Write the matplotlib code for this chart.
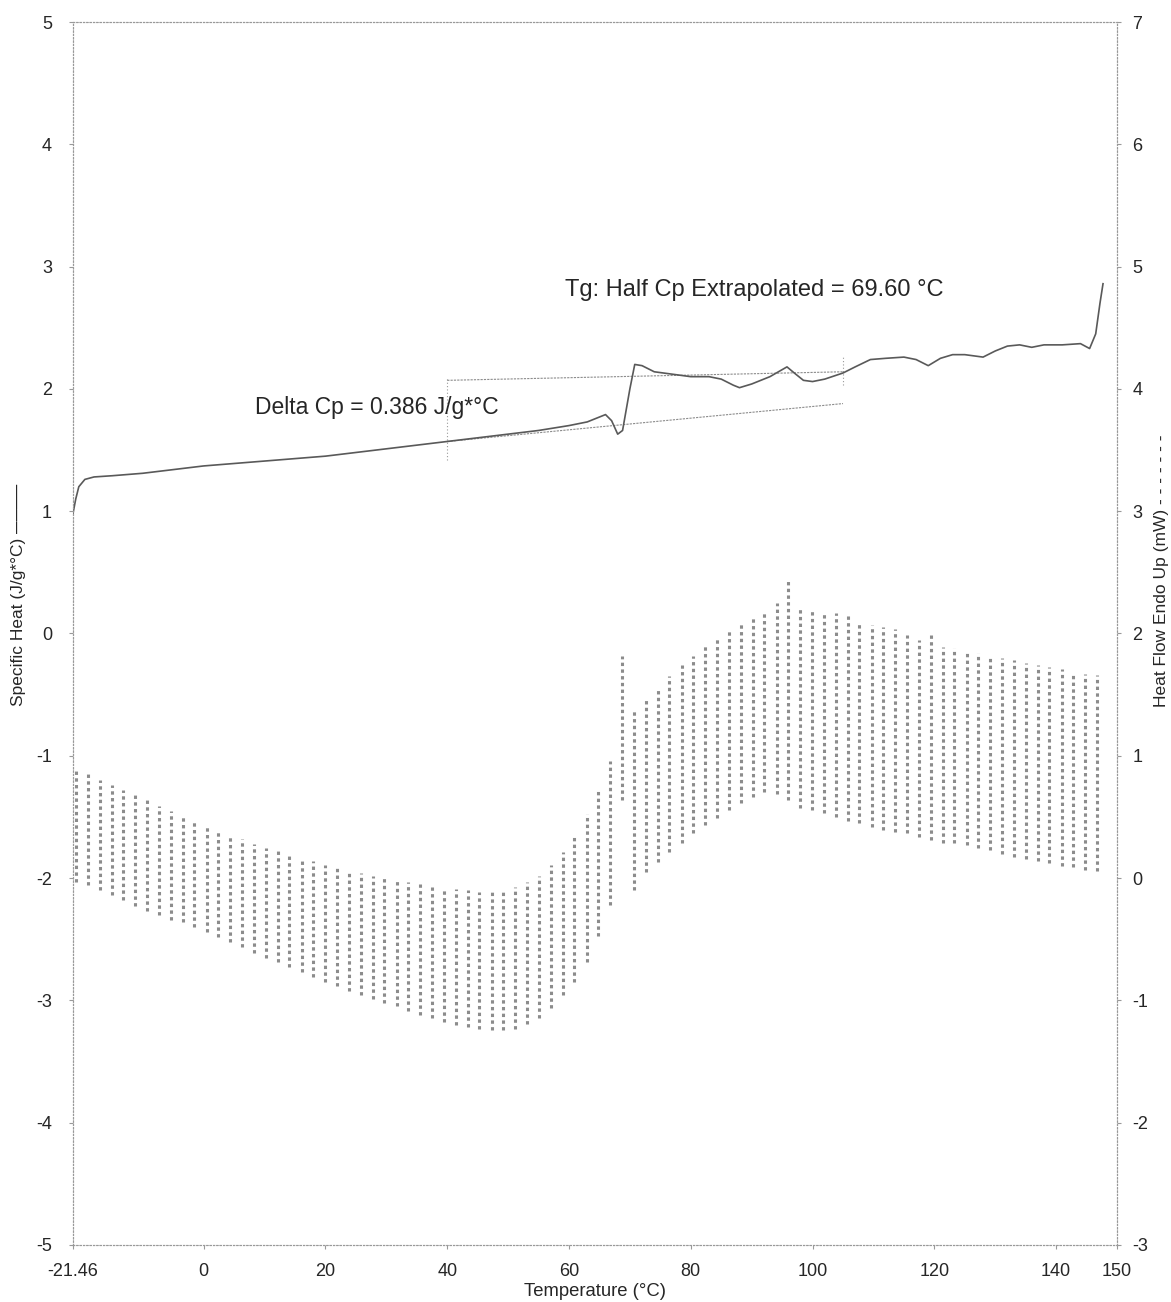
import matplotlib
matplotlib.use("Agg")
import matplotlib.pyplot as plt

plt.rcParams['font.family'] = ['Liberation Sans', 'DejaVu Sans']
plt.rcParams['axes.unicode_minus'] = False

# specific heat (reversing Cp), J/g*°C
cp_temp = [-21.46, -21.0, -20.5, -19.5, -18, -15, -10, -5, 0, 5, 10, 15, 20, 25,
           30, 35, 40, 45, 50, 55, 60, 63, 65, 66, 67, 68, 68.8, 70, 70.8, 72,
           74, 77, 80, 83, 85, 87, 88, 90, 93, 95.8, 97, 98.5, 100, 102, 105,
           107, 109.5, 112, 115, 117, 119, 121, 123, 125, 128, 130, 132, 134,
           136, 138, 141, 144, 145.5, 146.5, 147.2, 147.7]
cp_val = [0.98, 1.10, 1.20, 1.26, 1.28, 1.29, 1.31, 1.34, 1.37, 1.39, 1.41, 1.43,
          1.45, 1.48, 1.51, 1.54, 1.57, 1.60, 1.63, 1.66, 1.70, 1.73, 1.77, 1.79,
          1.74, 1.63, 1.66, 2.00, 2.20, 2.19, 2.14, 2.12, 2.10, 2.10, 2.08, 2.03,
          2.01, 2.04, 2.10, 2.18, 2.13, 2.07, 2.06, 2.08, 2.13, 2.18, 2.24, 2.25,
          2.26, 2.24, 2.19, 2.25, 2.28, 2.28, 2.26, 2.31, 2.35, 2.36, 2.34, 2.36,
          2.36, 2.37, 2.33, 2.45, 2.70, 2.86]

# modulated heat flow: one column per modulation cycle (low / high, mW)
hf_temp = [-21.0, -19.0, -17.1, -15.1, -13.2, -11.2, -9.3, -7.3, -5.4, -3.4, -1.5,
           0.5, 2.4, 4.4, 6.3, 8.3, 10.2, 12.2, 14.1, 16.1, 18.0, 20.0, 21.9, 23.9,
           25.8, 27.8, 29.7, 31.7, 33.6, 35.6, 37.5, 39.5, 41.4, 43.4, 45.3, 47.3,
           49.2, 51.2, 53.1, 55.1, 57.0, 59.0, 60.9, 62.9, 64.8, 66.8, 68.7, 70.7,
           72.6, 74.6, 76.5, 78.5, 80.4, 82.4, 84.3, 86.3, 88.2, 90.2, 92.1, 94.1,
           96.0, 98.0, 99.9, 101.9, 103.8, 105.8, 107.7, 109.7, 111.6, 113.6, 115.5,
           117.5, 119.4, 121.4, 123.3, 125.3, 127.2, 129.2, 131.1, 133.1, 135.0,
           137.0, 138.9, 140.9, 142.8, 144.8, 146.7]
hf_high = [0.88, 0.85, 0.80, 0.76, 0.72, 0.68, 0.64, 0.59, 0.55, 0.51, 0.47, 0.43,
           0.39, 0.35, 0.32, 0.28, 0.25, 0.22, 0.20, 0.16, 0.14, 0.11, 0.09, 0.07,
           0.04, 0.02, 0.00, -0.02, -0.03, -0.05, -0.07, -0.08, -0.09, -0.10, -0.11,
           -0.11, -0.10, -0.07, -0.03, 0.02, 0.11, 0.21, 0.34, 0.52, 0.72, 0.96,
           1.82, 1.37, 1.46, 1.55, 1.65, 1.74, 1.82, 1.91, 1.97, 2.03, 2.08, 2.13,
           2.17, 2.25, 2.44, 2.22, 2.19, 2.17, 2.17, 2.15, 2.09, 2.07, 2.05, 2.04,
           1.99, 1.95, 1.99, 1.89, 1.88, 1.86, 1.84, 1.82, 1.80, 1.78, 1.76, 1.74,
           1.73, 1.71, 1.68, 1.67, 1.66]
hf_low = [-0.03, -0.06, -0.10, -0.14, -0.18, -0.23, -0.27, -0.30, -0.34, -0.36,
          -0.40, -0.44, -0.48, -0.52, -0.56, -0.61, -0.65, -0.69, -0.73, -0.77,
          -0.81, -0.85, -0.88, -0.92, -0.96, -0.99, -1.02, -1.05, -1.09, -1.12,
          -1.14, -1.18, -1.20, -1.22, -1.23, -1.24, -1.24, -1.23, -1.19, -1.14,
          -1.06, -0.96, -0.85, -0.69, -0.47, -0.22, 0.64, -0.10, 0.05, 0.13, 0.21,
          0.29, 0.37, 0.43, 0.49, 0.56, 0.61, 0.66, 0.70, 0.69, 0.64, 0.57, 0.56,
          0.53, 0.50, 0.47, 0.45, 0.42, 0.39, 0.38, 0.37, 0.34, 0.31, 0.29, 0.29,
          0.27, 0.25, 0.23, 0.20, 0.17, 0.16, 0.14, 0.12, 0.10, 0.09, 0.07, 0.06]

# Tg construction: extrapolated baselines and limit markers
base_temp = [40, 105]
upper_base = [2.07, 2.14]
lower_base = [1.57, 1.88]
limit_temp = [40, 105]
limit_low = [1.42, 2.03]
limit_high = [2.09, 2.28]

xticks = [-21.46, 0, 20, 40, 60, 80, 100, 120, 140, 150]
xticklabels = ['-21.46', '0', '20', '40', '60', '80', '100', '120', '140', '150']

fig = plt.figure(figsize=(11.71, 13.02), dpi=100)
ax = fig.add_axes([0.0623, 0.0438, 0.8916, 0.9393])
ax2 = ax.twinx()

ax.set_xlim(-21.46, 150)
ax.set_ylim(-5, 5)
ax2.set_ylim(-3, 7)

ax2.vlines(hf_temp, hf_low, hf_high, colors='0.55', linewidth=2.2,
           linestyles=(0, (1.1, 1.1)))

ax.plot(cp_temp, cp_val, color='0.35', linewidth=1.2, zorder=5)
ax.plot(base_temp, upper_base, color='0.55', linewidth=0.8, linestyle=(0, (2, 1)))
ax.plot(base_temp, lower_base, color='0.55', linewidth=0.8, linestyle=(0, (2, 1)))
ax.vlines(limit_temp, limit_low, limit_high, colors='0.6', linewidth=0.8,
          linestyles=(0, (1, 2)))

ax.text(59.3, 2.81, 'Tg: Half Cp Extrapolated = 69.60 °C', fontsize=17,
        va='center', ha='left', color='0.15')
ax.text(8.4, 1.85, 'Delta Cp = 0.386 J/g*°C', fontsize=16.5,
        va='center', ha='left', color='0.15')

ax.set_xticks(xticks)
ax.set_xticklabels(xticklabels)
ax.set_yticks(range(-5, 6))
ax2.set_yticks(range(-3, 8))

for a in (ax, ax2):
    for s in a.spines.values():
        s.set_linestyle((0, (1, 2)))
        s.set_color('0.6')
        s.set_linewidth(0.8)
    a.tick_params(labelsize=13, length=3, color='0.6', labelcolor='0.15')
ax.tick_params(axis='x', pad=10)
ax.tick_params(axis='y', pad=12)
ax2.tick_params(axis='y', pad=8)

ax.set_xlabel('Temperature (°C)', fontsize=13.3, color='0.15', labelpad=2)
fig.text(0.0154, 0.543, 'Specific Heat (J/g*°C) ────', rotation=90,
         fontsize=12.5, color='0.15', ha='center', va='center')
fig.text(0.992, 0.562, 'Heat Flow Endo Up (mW) - - - - - - -', rotation=90,
         fontsize=12.5, color='0.15', ha='center', va='center')

fig.savefig('out.png', dpi=100, facecolor='white')
